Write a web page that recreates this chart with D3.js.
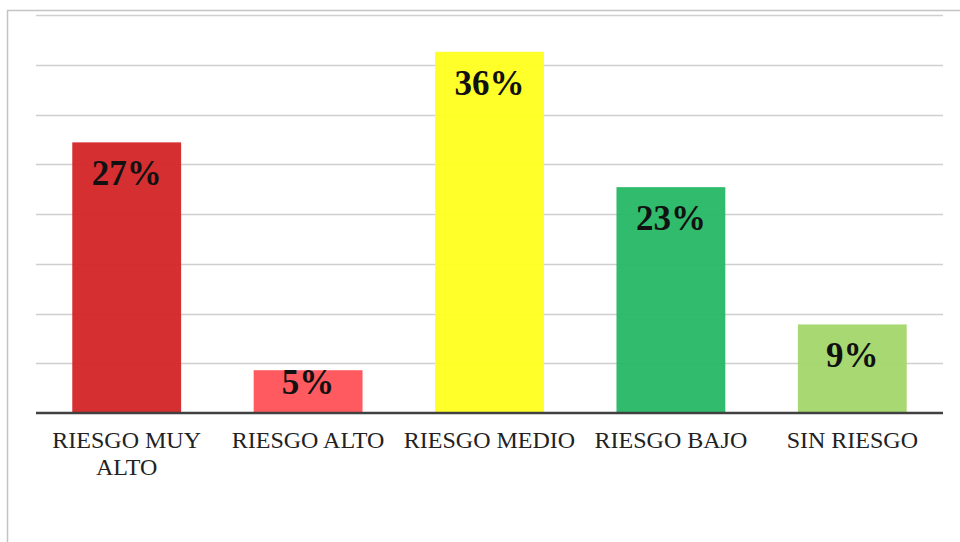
<!DOCTYPE html>
<html><head><meta charset="utf-8">
<script src="https://cdn.jsdelivr.net/npm/d3@7"></script>
<style>html,body{margin:0;padding:0;background:#fff;}
.serif{font-family:"Liberation Serif","Times New Roman",Tinos,"DejaVu Serif",serif;}</style>
</head><body>
<svg id="c" width="960" height="542"></svg>
<script>
const categories = [["RIESGO MUY", "ALTO"], ["RIESGO ALTO"], ["RIESGO MEDIO"], ["RIESGO BAJO"], ["SIN RIESGO"]];
const values = [27.2, 4.3, 36.3, 22.7, 8.9];
const valueLabels = ["27%", "5%", "36%", "23%", "9%"];
const colors = ["#d42426", "#ff5157", "#ffff1e", "#26b865", "#a2d669"];
const gridTicks = [5, 10, 15, 20, 25, 30, 35, 40];

const svg = d3.select("#c");
const plotLeft = 36, plotRight = 943, plotTop = 15, plotBottom = 413;

svg.append("rect").attr("x", 7.5).attr("y", 10.5).attr("width", 970).attr("height", 560)
  .attr("fill", "#fff").attr("stroke", "#c4c4c4").attr("stroke-width", 1.5);

const x = d3.scaleBand().domain(d3.range(values.length)).range([plotLeft, plotRight]).paddingInner(0.4).paddingOuter(0.2);
const y = d3.scaleLinear().domain([0, 40]).range([plotBottom, plotTop]);

svg.append("g").selectAll("line").data(gridTicks).join("line")
  .attr("x1", plotLeft).attr("x2", plotRight)
  .attr("y1", d => Math.round(y(d)) + 0.5).attr("y2", d => Math.round(y(d)) + 0.5)
  .attr("stroke", "#cfcfcf").attr("stroke-width", 1.5);

svg.append("g").selectAll("rect").data(values).join("rect")
  .attr("x", (d, i) => x(i)).attr("width", x.bandwidth())
  .attr("y", d => y(d)).attr("height", d => plotBottom - y(d))
  .attr("fill", (d, i) => colors[i]).attr("fill-opacity", 0.95);

svg.append("line").attr("x1", plotLeft).attr("x2", plotRight).attr("y1", plotBottom).attr("y2", plotBottom)
  .attr("stroke", "#404040").attr("stroke-width", 2.5);

svg.append("g").selectAll("text").data(values).join("text")
  .attr("class", "serif")
  .attr("x", (d, i) => x(i) + x.bandwidth() / 2)
  .attr("y", d => Math.min(y(d) + 43, plotBottom - 19))
  .attr("text-anchor", "middle")
  .attr("font-weight", "bold").attr("font-size", 35).attr("fill", "#111")
  .text((d, i) => valueLabels[i]);

const cat = svg.append("g").selectAll("text").data(categories).join("text")
  .attr("class", "serif")
  .attr("x", (d, i) => x(i) + x.bandwidth() / 2)
  .attr("y", 448)
  .attr("text-anchor", "middle")
  .attr("font-size", 24).attr("fill", "#222");
cat.selectAll("tspan").data(d => d).join("tspan")
  .attr("x", function () { return d3.select(this.parentNode).attr("x"); })
  .attr("dy", (d, j) => j === 0 ? 0 : 27)
  .text(d => d);
</script>
</body></html>
